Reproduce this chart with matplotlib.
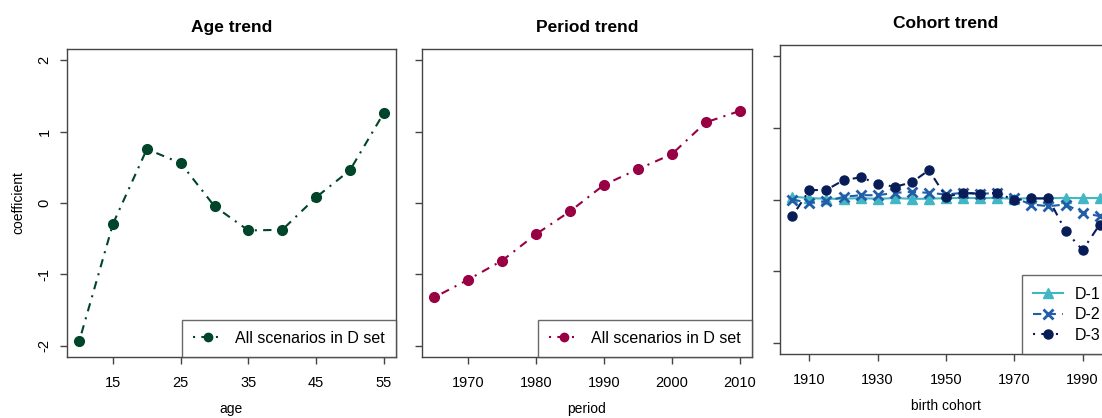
import matplotlib
matplotlib.use("Agg")
import matplotlib.pyplot as plt
from matplotlib.lines import Line2D

plt.rcParams["font.family"] = ["Liberation Sans", "DejaVu Sans"]

# age / period / cohort effects estimated on the D set
age = [10, 15, 20, 25, 30, 35, 40, 45, 50, 55]
age_coef = [-1.94, -0.29, 0.756, 0.559, -0.047, -0.385, -0.376, 0.08, 0.46, 1.263]

period = [1965, 1970, 1975, 1980, 1985, 1990, 1995, 2000, 2005, 2010]
period_coef = [-1.324, -1.075, -0.808, -0.437, -0.117, 0.254, 0.474, 0.685, 1.131, 1.291]

cohort = [1905, 1910, 1915, 1920, 1925, 1930, 1935, 1940, 1945, 1950,
          1955, 1960, 1965, 1970, 1975, 1980, 1985, 1990, 1995]
cohort_d1 = [0.04, 0.02, 0.01, 0.01, 0.02, 0.01, 0.02, 0.01, 0.01, 0.02,
             0.02, 0.02, 0.02, 0.01, 0.02, 0.02, 0.02, 0.02, 0.02]
cohort_d2 = [0.0, -0.046, -0.023, 0.037, 0.06, 0.06, 0.093, 0.107, 0.093, 0.07,
             0.093, 0.08, 0.09, 0.023, -0.07, -0.093, -0.07, -0.186, -0.233]
cohort_d3 = [-0.233, 0.13, 0.135, 0.27, 0.31, 0.223, 0.177, 0.24, 0.41, 0.037,
             0.093, 0.08, 0.093, -0.01, 0.014, 0.014, -0.44, -0.707, -0.35]

age_ticks = [15, 25, 35, 45, 55]
period_ticks = [1970, 1980, 1990, 2000, 2010]
cohort_ticks = [1910, 1930, 1950, 1970, 1990]
coef_ticks = [-2, -1, 0, 1, 2]

GREEN = "#004529"
CRIMSON = "#980043"
TEAL = "#41b6c4"
BLUE = "#225ea8"
NAVY = "#081d58"

DOTDASH = (1, 3, 4, 3)
DASHED = (4, 3)

W, H = 1102, 418
fig = plt.figure(figsize=(W / 100, H / 100), dpi=100)


def px_axes(left, right, top, bottom):
    return fig.add_axes([left / W, (H - bottom) / H, (right - left) / W, (bottom - top) / H])


def style(ax, xs, ticks, title, xlabel, ylabel=None, show_ylabels=False):
    ax.set_xticks(ticks)
    ax.set_yticks(coef_ticks)
    # limits after the ticks so the tick list cannot widen the view
    pad = 0.04 * (max(xs) - min(xs))
    ax.set_xlim(min(xs) - pad, max(xs) + pad)
    ax.set_ylim(-2.16, 2.16)
    ax.tick_params(direction="out", length=5, width=1, color="#444444", labelsize=10.5)
    ax.tick_params(axis="x", pad=9)
    ax.tick_params(axis="y", pad=6)
    if show_ylabels:
        ax.set_yticklabels([str(t) for t in coef_ticks], rotation=90, va="center")
    else:
        ax.set_yticklabels([])
    for sp in ax.spines.values():
        sp.set_color("#444444")
        sp.set_linewidth(1)
    ax.set_title(title, fontsize=12.5, fontweight="bold", pad=12)
    ax.set_xlabel(xlabel, fontsize=10, labelpad=8)
    if ylabel:
        ax.set_ylabel(ylabel, fontsize=10, labelpad=9)


def add_legend(ax, handles, labels, spacing=0.25):
    leg = ax.legend(handles, labels, loc="lower right", borderaxespad=0,
                    fancybox=False, fontsize=11.5, handlelength=1.9,
                    handletextpad=0.75, borderpad=0.7, labelspacing=spacing)
    leg.get_frame().set_edgecolor("#444444")
    leg.get_frame().set_linewidth(1)


# age panel
ax1 = px_axes(67, 396, 49, 357)
ax1.plot(age, age_coef, color=GREEN, lw=1.5, dashes=DOTDASH, marker="o", ms=7)
style(ax1, age, age_ticks, "Age trend", "age", "coefficient", show_ylabels=True)
add_legend(ax1, [Line2D([], [], color=GREEN, lw=1.5, dashes=DOTDASH, marker="o", ms=6)],
           ["All scenarios in D set"])

# period panel
ax2 = px_axes(422, 752, 49, 357)
ax2.plot(period, period_coef, color=CRIMSON, lw=1.5, dashes=DOTDASH, marker="o", ms=7)
style(ax2, period, period_ticks, "Period trend", "period")
add_legend(ax2, [Line2D([], [], color=CRIMSON, lw=1.5, dashes=DOTDASH, marker="o", ms=6)],
           ["All scenarios in D set"])

# cohort panel, runs past the right edge of the figure
ax3 = px_axes(780, 1112, 45, 354)
l1, = ax3.plot(cohort, cohort_d1, color=TEAL, lw=1.5, marker="^", ms=7)
l2, = ax3.plot(cohort, cohort_d2, color=BLUE, lw=1.5, dashes=DASHED, marker="x",
               ms=7, mew=2)
l3, = ax3.plot(cohort, cohort_d3, color=NAVY, lw=1.5, dashes=DOTDASH, marker="o", ms=6.5)
style(ax3, cohort, cohort_ticks, "Cohort trend", "birth cohort")
add_legend(ax3, [l1, l2, l3], ["D-1", "D-2", "D-3"], spacing=0.35)

fig.savefig("out.png", dpi=100)
